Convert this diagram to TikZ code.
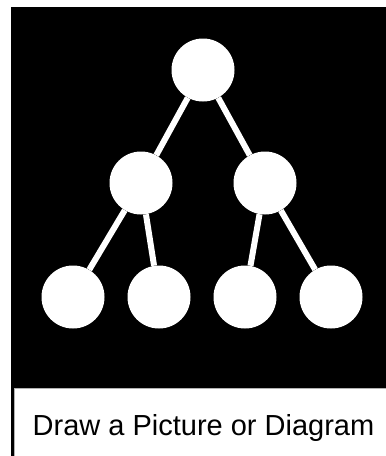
\documentclass[tikz,border=0pt]{standalone}
\usepackage{fontspec}
\setmainfont{Liberation Sans}
\usetikzlibrary{positioning}

\begin{document}
\begin{tikzpicture}[
x=1pt, y=-1pt,
dot/.style={circle, fill=white, inner sep=0pt, minimum size=63pt},
link/.style={white, line width=6pt},
caption/.style={anchor=base, inner sep=0pt, font=\fontsize{29}{33}\selectfont}
]
\useasboundingbox (0,0) rectangle (386,456);
% frame
\fill[black] (11,7) rectangle (386,388);
\fill[black] (11,388) rectangle (13.5,456);
\draw[gray!60, line width=0.8pt] (14,456) -- (14,388.5) -- (386,388.5);

% tree
\node[dot] (root) at (203,70) {};
\node[dot] (left) at (141,183) {};
\node[dot] (right) at (265,183) {};
\node[dot] (leafa) at (73,297) {};
\node[dot] (leafb) at (159,297) {};
\node[dot] (leafc) at (245,297) {};
\node[dot] (leafd) at (331,297) {};

\draw[link] (root) -- (left);
\draw[link] (root) -- (right);
\draw[link] (left) -- (leafa);
\draw[link] (left) -- (leafb);
\draw[link] (right) -- (leafc);
\draw[link] (right) -- (leafd);

\node[caption] (label) at (203.5,435) {Draw a Picture or Diagram};
\end{tikzpicture}
\end{document}
